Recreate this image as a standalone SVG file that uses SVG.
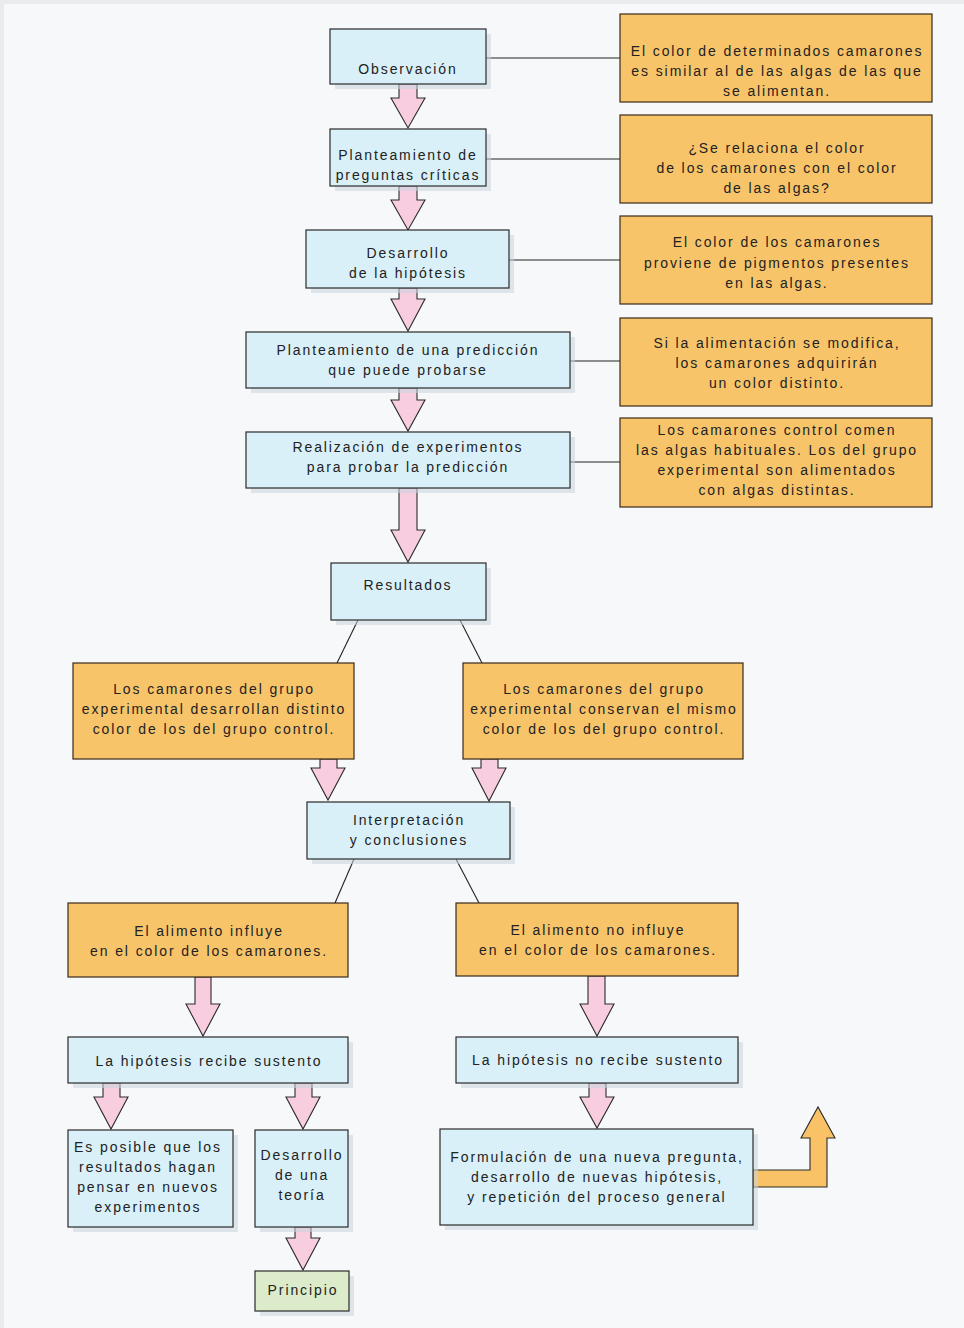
<svg xmlns="http://www.w3.org/2000/svg" width="964" height="1328" viewBox="0 0 964 1328">
<style>
.bg{fill:#f6f8f9}
.sh{fill:#c9d5de;opacity:0.55}
.blue{fill:#d9f0f8;stroke:#2a2a2a;stroke-width:1.2}
.orange{fill:#f8c46a;stroke:#3a2a1a;stroke-width:1.2}
.green{fill:#dcebc9;stroke:#2a2a2a;stroke-width:1.2}
.pink{fill:#f8cde0;stroke:#2a2a2a;stroke-width:1.1;stroke-linejoin:miter}
.up{fill:#f9c266;stroke:#2a2a2a;stroke-width:1.1}
.line{stroke:#222;stroke-width:1.1;fill:none}
text{font-family:"Liberation Sans",Arial,sans-serif;font-size:14px;letter-spacing:1.9px;fill:#222;text-anchor:middle}
</style>
<rect class="bg" x="0" y="0" width="964" height="1328"/>
<rect x="0" y="0" width="964" height="4" fill="#e9ebec"/>
<rect x="0" y="0" width="4" height="1328" fill="#e9ebec"/>

<g id="connectors">
  <line class="line" x1="486" y1="58" x2="620" y2="58"/>
  <line class="line" x1="486" y1="159" x2="620" y2="159"/>
  <line class="line" x1="509" y1="260" x2="620" y2="260"/>
  <line class="line" x1="570" y1="361" x2="620" y2="361"/>
  <line class="line" x1="570" y1="462" x2="620" y2="462"/>
  <line class="line" x1="358" y1="620" x2="337" y2="663"/>
  <line class="line" x1="460" y1="620" x2="482" y2="663"/>
  <line class="line" x1="354" y1="859" x2="335" y2="903"/>
  <line class="line" x1="456" y1="859" x2="479" y2="903"/>
  <path class="pink" d="M399 84 L417 84 L417 98 L425 98 L408 128 L391 98 L399 98 Z"/>
  <path class="pink" d="M399 186 L417 186 L417 200 L425 200 L408 230 L391 200 L399 200 Z"/>
  <path class="pink" d="M399 288 L417 288 L417 299 L425 299 L408 331 L391 299 L399 299 Z"/>
  <path class="pink" d="M399 388 L417 388 L417 400 L425 400 L408 431 L391 400 L399 400 Z"/>
  <path class="pink" d="M399 488 L417 488 L417 530 L425 530 L408 562 L391 530 L399 530 Z"/>
  <path class="pink" d="M320 759 L337 759 L337 768 L345 768 L328 800 L311 768 L320 768 Z"/>
  <path class="pink" d="M481 759 L498 759 L498 768 L506 768 L489 801 L472 768 L481 768 Z"/>
  <path class="pink" d="M195 977 L211 977 L211 1004 L220 1004 L203 1036 L186 1004 L195 1004 Z"/>
  <path class="pink" d="M588 976 L605 976 L605 1004 L614 1004 L597 1036 L580 1004 L588 1004 Z"/>
  <path class="pink" d="M103 1083 L120 1083 L120 1097 L128 1097 L111 1129 L94 1097 L103 1097 Z"/>
  <path class="pink" d="M295 1083 L312 1083 L312 1097 L320 1097 L303 1129 L286 1097 L295 1097 Z"/>
  <path class="pink" d="M295 1227 L311 1227 L311 1238 L320 1238 L303 1270 L286 1238 L295 1238 Z"/>
  <path class="pink" d="M589 1083 L606 1083 L606 1097 L614 1097 L597 1128 L580 1097 L589 1097 Z"/>
  <path class="up" d="M753 1170 L810 1170 L810 1138 L801 1138 L818 1107 L835 1138 L827 1138 L827 1187 L753 1187 Z"/>
</g>

<g id="n1"><rect class="sh" x="335" y="34" width="156" height="55"/><rect class="blue" x="330" y="29" width="156" height="55"/><text x="408" y="74">Observación</text></g>
<g id="n2"><rect class="sh" x="335" y="134" width="156" height="57"/><rect class="blue" x="330" y="129" width="156" height="57"/><text x="408" y="160">Planteamiento de</text><text x="408" y="180">preguntas críticas</text></g>
<g id="n3"><rect class="sh" x="311" y="235" width="203" height="58"/><rect class="blue" x="306" y="230" width="203" height="58"/><text x="408" y="258">Desarrollo</text><text x="408" y="278">de la hipótesis</text></g>
<g id="n4"><rect class="sh" x="251" y="337" width="324" height="56"/><rect class="blue" x="246" y="332" width="324" height="56"/><text x="408" y="355">Planteamiento de una predicción</text><text x="408" y="375">que puede probarse</text></g>
<g id="n5"><rect class="sh" x="251" y="437" width="324" height="56"/><rect class="blue" x="246" y="432" width="324" height="56"/><text x="408" y="452">Realización de experimentos</text><text x="408" y="472">para probar la predicción</text></g>
<g id="n6"><rect class="sh" x="336" y="568" width="155" height="57"/><rect class="blue" x="331" y="563" width="155" height="57"/><text x="408" y="590">Resultados</text></g>

<g id="o1"><rect class="orange" x="620" y="14" width="312" height="88"/><text x="777" y="56">El color de determinados camarones</text><text x="777" y="76">es similar al de las algas de las que</text><text x="777" y="96">se alimentan.</text></g>
<g id="o2"><rect class="orange" x="620" y="115" width="312" height="88"/><text x="777" y="153">¿Se relaciona el color</text><text x="777" y="173">de los camarones con el color</text><text x="777" y="193">de las algas?</text></g>
<g id="o3"><rect class="orange" x="620" y="216" width="312" height="88"/><text x="777" y="247">El color de los camarones</text><text x="777" y="268">proviene de pigmentos presentes</text><text x="777" y="288">en las algas.</text></g>
<g id="o4"><rect class="orange" x="620" y="318" width="312" height="88"/><text x="777" y="348">Si la alimentación se modifica,</text><text x="777" y="368">los camarones adquirirán</text><text x="777" y="388">un color distinto.</text></g>
<g id="o5"><rect class="orange" x="620" y="418" width="312" height="89"/><text x="777" y="435">Los camarones control comen</text><text x="777" y="455">las algas habituales. Los del grupo</text><text x="777" y="475">experimental son alimentados</text><text x="777" y="495">con algas distintas.</text></g>

<g id="n7"><rect class="orange" x="73" y="663" width="281" height="96"/><text x="214" y="694">Los camarones del grupo</text><text x="214" y="714">experimental desarrollan distinto</text><text x="214" y="734">color de los del grupo control.</text></g>
<g id="n8"><rect class="orange" x="463" y="663" width="280" height="96"/><text x="604" y="694">Los camarones del grupo</text><text x="604" y="714">experimental conservan el mismo</text><text x="604" y="734">color de los del grupo control.</text></g>

<g id="n9"><rect class="sh" x="312" y="807" width="203" height="57"/><rect class="blue" x="307" y="802" width="203" height="57"/><text x="409" y="825">Interpretación</text><text x="409" y="845">y conclusiones</text></g>

<g id="n10"><rect class="orange" x="68" y="903" width="280" height="74"/><text x="209" y="936">El alimento influye</text><text x="209" y="956">en el color de los camarones.</text></g>
<g id="n11"><rect class="orange" x="456" y="903" width="282" height="73"/><text x="598" y="935">El alimento no influye</text><text x="598" y="955">en el color de los camarones.</text></g>

<g id="n12"><rect class="sh" x="73" y="1042" width="280" height="46"/><rect class="blue" x="68" y="1037" width="280" height="46"/><text x="209" y="1066">La hipótesis recibe sustento</text></g>
<g id="n13"><rect class="sh" x="461" y="1042" width="282" height="46"/><rect class="blue" x="456" y="1037" width="282" height="46"/><text x="598" y="1065">La hipótesis no recibe sustento</text></g>
<g id="n14"><rect class="sh" x="73" y="1135" width="165" height="97"/><rect class="blue" x="68" y="1130" width="165" height="97"/><text x="148" y="1152">Es posible que los</text><text x="148" y="1172">resultados hagan</text><text x="148" y="1192">pensar en nuevos</text><text x="148" y="1212">experimentos</text></g>
<g id="n15"><rect class="sh" x="260" y="1135" width="93" height="97"/><rect class="blue" x="255" y="1130" width="93" height="97"/><text x="302" y="1160">Desarrollo</text><text x="302" y="1180">de una</text><text x="302" y="1200">teoría</text></g>
<g id="n16"><rect class="sh" x="445" y="1134" width="313" height="96"/><rect class="blue" x="440" y="1129" width="313" height="96"/><text x="597" y="1162">Formulación de una nueva pregunta,</text><text x="597" y="1182">desarrollo de nuevas hipótesis,</text><text x="597" y="1202">y repetición del proceso general</text></g>
<g id="n17"><rect class="sh" x="260" y="1276" width="94" height="40"/><rect class="green" x="255" y="1271" width="94" height="40"/><text x="303" y="1295">Principio</text></g>
</svg>
